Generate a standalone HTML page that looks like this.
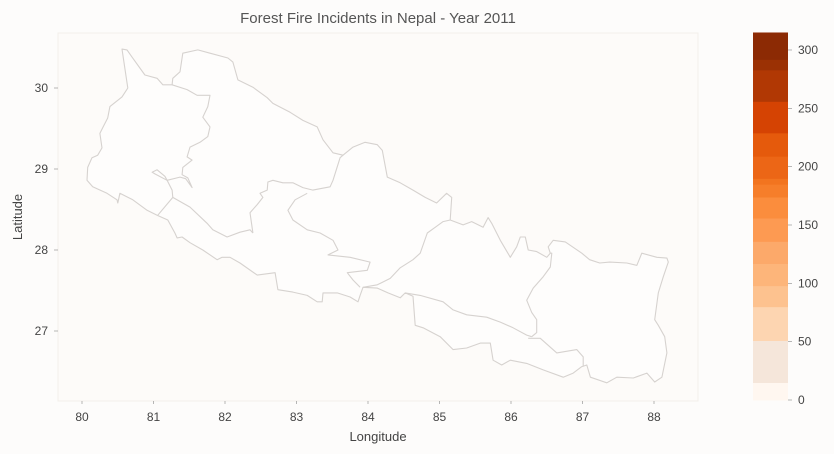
<!DOCTYPE html>
<html><head><meta charset="utf-8">
<style>
html,body{margin:0;padding:0;background:#fdfcfb;}
svg{display:block;font-family:"Liberation Sans",sans-serif;}
</style></head>
<body>
<svg id="chart" width="834" height="454" viewBox="0 0 834 454">
  <rect x="0" y="0" width="834" height="454" fill="#fdfcfb"/>
  <rect x="58" y="33" width="640" height="368" fill="#fdfbf9" stroke="#f3efeb" stroke-width="1"/>
  <text x="378" y="23" text-anchor="middle" font-size="15" fill="#555">Forest Fire Incidents in Nepal - Year 2011</text>
  <text x="378" y="441" text-anchor="middle" font-size="13" fill="#444">Longitude</text>
  <text x="22" y="217" text-anchor="middle" font-size="13" fill="#444" transform="rotate(-90 22 217)">Latitude</text>
  <g id="xticks"></g>
  <g id="yticks"></g>
  <g id="map"></g>
  <g id="cbar"></g>
  <g id="cticks"></g>
</svg>
<script>
const xTicks = [80,81,82,83,84,85,86,87,88];
const yTicks = [27,28,29,30];
const cbTicks = [0,50,100,150,200,250,300];
const cbBounds = [0,15,51,80,98,117,136,156,174,185,190,209,229,256,283,292,315];
const cbColors = ["#fff7f0","#f5e6da","#fdd5b1","#fdc28f","#fdb57a","#fca96a","#fd9a52","#fb8d3d","#f67e2a","#f2741f","#ec6616","#e55a0c","#d54303","#b13804","#9b3104","#8c2a04"];

const outer = [[80.56,30.48],[80.64,30.00],[80.56,29.89],[80.39,29.77],[80.36,29.63],[80.29,29.51],[80.25,29.44],[80.28,29.26],[80.22,29.17],[80.14,29.14],[80.08,29.02],[80.07,28.86],[80.15,28.78],[80.35,28.70],[80.49,28.62],[80.50,28.58],[80.53,28.70],[80.71,28.62],[80.91,28.49],[81.05,28.43],[81.20,28.37],[81.30,28.21],[81.33,28.15],[81.40,28.16],[81.51,28.09],[81.69,28.00],[81.89,27.88],[81.96,27.91],[82.07,27.91],[82.21,27.84],[82.45,27.69],[82.70,27.72],[82.74,27.51],[82.95,27.48],[83.15,27.44],[83.29,27.36],[83.36,27.36],[83.37,27.47],[83.57,27.47],[83.75,27.42],[83.86,27.36],[83.89,27.44],[83.93,27.54],[84.13,27.53],[84.28,27.47],[84.45,27.41],[84.52,27.47],[84.63,27.43],[84.66,27.07],[84.77,27.04],[85.01,26.93],[85.19,26.77],[85.38,26.79],[85.57,26.85],[85.71,26.85],[85.75,26.64],[85.87,26.58],[85.99,26.64],[86.22,26.60],[86.45,26.52],[86.73,26.43],[86.87,26.48],[86.99,26.56],[87.06,26.58],[87.11,26.43],[87.34,26.36],[87.48,26.43],[87.71,26.42],[87.90,26.48],[88.01,26.37],[88.11,26.43],[88.18,26.73],[88.15,26.93],[88.06,27.07],[88.01,27.14],[88.06,27.47],[88.13,27.67],[88.20,27.85],[88.18,27.90],[88.04,27.91],[87.83,27.96],[87.76,27.81],[87.62,27.84],[87.38,27.85],[87.24,27.84],[87.10,27.88],[86.99,27.96],[86.76,28.10],[86.59,28.12],[86.52,28.04],[86.55,27.96],[86.50,27.91],[86.36,27.98],[86.24,28.00],[86.20,28.16],[86.13,28.16],[86.08,28.04],[85.99,27.91],[85.85,28.12],[85.73,28.33],[85.68,28.40],[85.61,28.28],[85.45,28.35],[85.33,28.31],[85.15,28.37],[85.17,28.65],[85.10,28.70],[84.96,28.58],[84.80,28.65],[84.63,28.74],[84.45,28.83],[84.27,28.90],[84.20,29.23],[84.13,29.30],[83.96,29.33],[83.79,29.27],[83.65,29.17],[83.51,29.20],[83.37,29.36],[83.29,29.52],[83.09,29.60],[82.91,29.70],[82.67,29.81],[82.59,29.88],[82.39,30.01],[82.18,30.10],[82.11,30.32],[82.04,30.37],[81.79,30.43],[81.62,30.47],[81.41,30.43],[81.37,30.20],[81.27,30.12],[81.26,30.04],[81.13,30.04],[81.05,30.12],[80.88,30.16],[80.70,30.38],[80.63,30.47],[80.56,30.48]];
const borderA = [[81.26,30.04],[81.47,29.98],[81.61,29.91],[81.79,29.91],[81.76,29.77],[81.69,29.64],[81.79,29.52],[81.76,29.40],[81.65,29.33],[81.51,29.27],[81.47,29.15],[81.54,29.11],[81.41,29.02],[81.40,28.93],[81.48,28.89],[81.54,28.77],[81.45,28.88],[81.37,28.90],[81.19,28.86],[81.02,28.94],[80.98,28.96],[81.05,28.99],[81.16,28.91],[81.19,28.86]];
const borderB = [[81.19,28.86],[81.26,28.74],[81.27,28.65],[81.06,28.43]];
const borderC = [[81.27,28.65],[81.51,28.53],[81.75,28.33],[81.83,28.25],[82.03,28.16],[82.21,28.22],[82.35,28.25],[82.39,28.21]];
const borderD = [[82.39,28.21],[82.35,28.46],[82.45,28.56],[82.53,28.65],[82.49,28.70],[82.59,28.74],[82.60,28.84],[82.67,28.86],[82.81,28.83],[82.95,28.83],[83.09,28.77],[83.23,28.74],[83.47,28.78],[83.51,28.86],[83.61,29.14],[83.65,29.17]];
const borderE = [[83.15,28.70],[82.98,28.62],[82.88,28.49],[82.95,28.37],[83.15,28.25],[83.33,28.21],[83.51,28.12],[83.58,28.00],[83.44,27.94],[83.75,27.91],[84.03,27.85],[83.99,27.75],[83.71,27.72],[83.79,27.63],[83.89,27.54]];
const borderF = [[83.93,27.54],[84.13,27.57],[84.31,27.65],[84.45,27.78],[84.63,27.88],[84.73,27.96],[84.83,28.21],[84.94,28.28],[85.05,28.35],[85.15,28.37]];
const borderG = [[84.52,27.47],[84.73,27.44],[85.05,27.36],[85.19,27.26],[85.38,27.20],[85.66,27.17],[85.85,27.11],[86.03,27.04],[86.22,26.95],[86.29,26.93]];
const borderH = [[86.29,26.93],[86.36,26.98],[86.36,27.14],[86.29,27.23],[86.22,27.38],[86.31,27.53],[86.45,27.67],[86.55,27.79],[86.57,27.96],[86.55,27.96]];
const borderI = [[86.24,26.91],[86.41,26.91],[86.55,26.80],[86.64,26.73],[86.92,26.77],[87.01,26.68],[87.01,26.56]];

const NS = "http://www.w3.org/2000/svg";
function xs(lon){ return 82 + (lon - 80) * 71.5; }
function ys(lat){ return 88 + (30 - lat) * 81; }
function cs(v){ return 400 - v * 1.1667; }
function mk(tag, attrs, parent){ const e = document.createElementNS(NS, tag); for (const k in attrs) e.setAttribute(k, attrs[k]); parent.appendChild(e); return e; }

const xg = document.getElementById('xticks');
xTicks.forEach(t => {
  const l = mk('line', {x1: xs(t), x2: xs(t), y1: 401, y2: 404, stroke: '#888', 'stroke-width': 0.6}, xg);
  
  
  const tx = mk('text', {x: xs(t), y: 421, 'text-anchor': 'middle', 'font-size': 12, fill: '#444'}, xg);
  tx.textContent = t;
  
  
});
const yg = document.getElementById('yticks');
yTicks.forEach(t => {
  const l = mk('line', {x1: 54, x2: 58, y1: ys(t), y2: ys(t), stroke: '#888', 'stroke-width': 0.6}, yg);
  
  
  const tx = mk('text', {x: 48, y: ys(t) + 4, 'text-anchor': 'end', 'font-size': 12, fill: '#444'}, yg);
  tx.textContent = t;
  
  
});

const mg = document.getElementById('map');
function pathD(arr){ return arr.map((p,i) => (i ? 'L' : 'M') + xs(p[0]).toFixed(1) + ',' + ys(p[1]).toFixed(1)).join(''); }
const op = mk('path', {d: pathD(outer) + 'Z', fill: '#fefdfc', stroke: '#d6d2cf', 'stroke-width': 1.1, 'stroke-linejoin': 'round'}, mg);


[borderA, borderB, borderC, borderD, borderE, borderF, borderG, borderH, borderI].forEach(b => {
  const p = mk('path', {d: pathD(b), fill: 'none', stroke: '#d6d2cf', 'stroke-width': 1.1, 'stroke-linejoin': 'round'}, mg);
  
  
});

const cg = document.getElementById('cbar');
cbColors.forEach((c, i) => {
  const y1 = cs(cbBounds[i + 1]), y0 = cs(cbBounds[i]);
  const r = mk('rect', {x: 753, y: y1, width: 35, height: y0 - y1 + 0.5, fill: c}, cg);
  
  
});
const ctg = document.getElementById('cticks');
cbTicks.forEach(t => {
  const l = mk('line', {x1: 788, x2: 792, y1: cs(t), y2: cs(t), stroke: '#888', 'stroke-width': 0.6}, ctg);
  
  
  const tx = mk('text', {x: 798, y: cs(t) + 4, 'font-size': 12, fill: '#444'}, ctg);
  tx.textContent = t;
  
  
});
</script>
</body></html>
